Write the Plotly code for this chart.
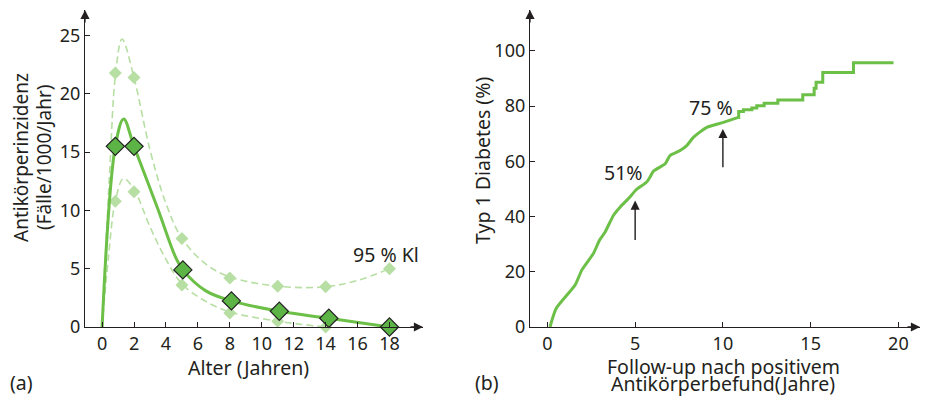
import plotly.graph_objects as go

# page body has an 8px margin: figure is sized so that it fits the 929x404 window exactly
PAD = 8
W, H = 929 - 2 * PAD, 404 - 2 * PAD


def px(x):
    return (x - PAD) / W


def py(y):
    return 1 - (y - PAD) / H


# ---------- Panel (a) data ----------
main_curve_x = [0, 0.83, 1.35, 2, 3.5, 4.6, 5.06, 6.5, 8.1, 11.1, 14.2, 18]
main_curve_y = [0, 15.5, 17.85, 15.5, 10.1, 6.0, 4.9, 3.1, 2.24, 1.35, 0.75, 0]
upper_curve_x = [0, 0.5, 0.83, 1.25, 2, 3, 4, 5, 6.5, 8, 11, 14, 16, 18]
upper_curve_y = [0, 14, 21.5, 24.7, 21.4, 15.2, 10.6, 7.6, 5.4, 4.3, 3.5, 3.45, 4.0, 5.0]
lower_curve_x = [0, 0.4, 0.83, 1.35, 2, 3, 4, 5, 6.5, 8, 11, 14]
lower_curve_y = [0, 6, 10.8, 12.75, 11.8, 8.6, 5.8, 3.7, 2.2, 1.3, 0.5, 0]
main_pts_x = [0.83, 2.0, 5.06, 8.1, 11.1, 14.2, 18.0]
main_pts_y = [15.5, 15.5, 4.9, 2.24, 1.35, 0.75, 0.0]
upper_pts_x = [0.83, 2.0, 5.0, 8.0, 11.0, 14.0, 18.0]
upper_pts_y = [21.8, 21.4, 7.6, 4.2, 3.5, 3.45, 5.0]
lower_pts_x = [0.83, 2.0, 5.0, 8.0, 11.0, 14.0]
lower_pts_y = [10.8, 11.6, 3.6, 1.2, 0.5, 0.0]
a_xticks = [0, 2, 4, 6, 8, 10, 12, 14, 16, 18]
a_yticks = [0, 5, 10, 15, 20, 25]

# ---------- Panel (b) data ----------
b_curve_x = [0.15, 0.5, 1.58, 1.96, 2.62, 2.97, 3.29, 3.76, 4.14, 4.62, 5.06, 5.66,
             5.85, 6.04, 6.71, 6.99, 7.56, 7.94, 8.32, 9.08, 10.03, 10.88]
b_curve_y = [0, 6.7, 15.2, 20.6, 26.6, 31.4, 34.4, 40.4, 43.4, 46.5, 49.7, 52.5,
             54.3, 56.4, 59.1, 62.1, 63.9, 65.7, 68.7, 72.3, 74.1, 75.9]
b_step_x = [10.88, 10.9, 11.17, 11.65, 11.93, 12.35, 13.13, 14.55, 15.2, 15.31, 15.69, 17.44, 19.72]
b_step_y = [75.9, 78.0, 78.7, 79.3, 80.1, 81.0, 82.2, 84.1, 86.5, 88.6, 92.2, 95.7, 95.7]
b_xticks = [0, 5, 10, 15, 20]
b_yticks = [0, 20, 40, 60, 80, 100]

GREEN = "#6cbf47"
DIAMOND = "#5db446"
LIGHT = "#b7dfa3"
TXT = "#231f20"
FONT = "Noto Sans"

fig = go.Figure()

# panel a
fig.add_trace(go.Scatter(x=upper_curve_x, y=upper_curve_y, mode="lines", line=dict(color=LIGHT, width=1.6, dash="7px,4px", shape="spline", smoothing=1.0), xaxis="x", yaxis="y", hoverinfo="skip"))
fig.add_trace(go.Scatter(x=lower_curve_x, y=lower_curve_y, mode="lines", line=dict(color=LIGHT, width=1.6, dash="7px,4px", shape="spline", smoothing=1.0), xaxis="x", yaxis="y", hoverinfo="skip"))
fig.add_trace(go.Scatter(x=upper_pts_x + lower_pts_x, y=upper_pts_y + lower_pts_y, mode="markers", marker=dict(symbol="diamond", size=10, color=LIGHT), xaxis="x", yaxis="y", cliponaxis=False))
fig.add_trace(go.Scatter(x=main_curve_x, y=main_curve_y, mode="lines", line=dict(color=GREEN, width=3, shape="spline", smoothing=1.0), xaxis="x", yaxis="y"))
fig.add_trace(go.Scatter(x=main_pts_x, y=main_pts_y, mode="markers", marker=dict(symbol="diamond", size=14, color=DIAMOND, line=dict(color="#222", width=1.2)), xaxis="x", yaxis="y", cliponaxis=False))

# panel b
fig.add_trace(go.Scatter(x=b_curve_x, y=b_curve_y, mode="lines", line=dict(color=GREEN, width=3, shape="spline", smoothing=0.6), xaxis="x2", yaxis="y2"))
fig.add_trace(go.Scatter(x=b_step_x, y=b_step_y, mode="lines", line=dict(color=GREEN, width=3, shape="hv"), xaxis="x2", yaxis="y2"))

axis_common = dict(showline=True, linecolor=TXT, linewidth=1.3, ticks="inside", ticklen=5, tickcolor=TXT, tickwidth=1.2,
                   showgrid=False, zeroline=False, tickfont=dict(family=FONT, size=18, color=TXT))

fig.update_layout(
    width=W, height=H, margin=dict(l=0, r=0, t=0, b=0, autoexpand=False),
    plot_bgcolor="white", paper_bgcolor="white", showlegend=False,
    xaxis=dict(domain=[px(85), px(423)], range=[-1.07, 20.1], tickvals=a_xticks, anchor="y", **axis_common),
    yaxis=dict(domain=[py(327), py(10)], range=[0, 27.2], tickvals=a_yticks, anchor="x", **axis_common),
    xaxis2=dict(domain=[px(530), px(920)], range=[-0.99, 21.23], tickvals=b_xticks, anchor="y2", **axis_common),
    yaxis2=dict(domain=[py(327), py(10)], range=[0, 114.8], tickvals=b_yticks, anchor="x2", **axis_common),
)

ann = []


def text(x, y, t, angle=0, xref="paper", yref="paper", size=19.5):
    return dict(x=x, y=y, xref=xref, yref=yref, text=t, textangle=angle, showarrow=False, borderpad=0,
                font=dict(family=FONT, size=size, color=TXT), xanchor="center", yanchor="middle")


# axis arrowheads
for xr, yr in (("x", "y"), ("x2", "y2")):
    ann.append(dict(x=0, y=1, xref=f"{xr} domain", yref=f"{yr} domain", ax=0, ay=14,
                    showarrow=True, arrowhead=2, arrowsize=1.4, arrowwidth=1.3, arrowcolor=TXT, text=""))
    ann.append(dict(x=1, y=0, xref=f"{xr} domain", yref=f"{yr} domain", ax=-14, ay=0,
                    showarrow=True, arrowhead=2, arrowsize=1.4, arrowwidth=1.3, arrowcolor=TXT, text=""))
# panel a texts
ann.append(text(17.8, 6.2, "95 % Kl", xref="x", yref="y"))
ann.append(text(px(21), py(158), "Antikörperinzidenz", angle=-90, size=19))
ann.append(text(px(44), py(158), "(Fälle/1000/Jahr)", angle=-90, size=19))
ann.append(text(px(248), py(367), "Alter (Jahren)"))
ann.append(text(px(21), py(382), "(a)"))
# panel b texts
ann.append(text(4.31, 56, "51%", xref="x2", yref="y2"))
ann.append(text(9.32, 79.4, "75 %", xref="x2", yref="y2"))
ann.append(dict(x=5, y=45.8, ax=5, ay=31, xref="x2", yref="y2", axref="x2", ayref="y2", text="", showarrow=True,
                arrowhead=2, arrowsize=1.3, arrowwidth=1.4, arrowcolor=TXT))
ann.append(dict(x=10, y=71.7, ax=10, ay=57.3, xref="x2", yref="y2", axref="x2", ayref="y2", text="", showarrow=True,
                arrowhead=2, arrowsize=1.3, arrowwidth=1.4, arrowcolor=TXT))
ann.append(text(px(483), py(160), "Typ 1 Diabetes (%)", angle=-90))
ann.append(text(px(723), py(366), "Follow-up nach positivem"))
ann.append(text(px(723), py(383), "Antikörperbefund(Jahre)"))
ann.append(text(px(487), py(382), "(b)"))
fig.update_layout(annotations=ann)

fig.write_html("out.html")
